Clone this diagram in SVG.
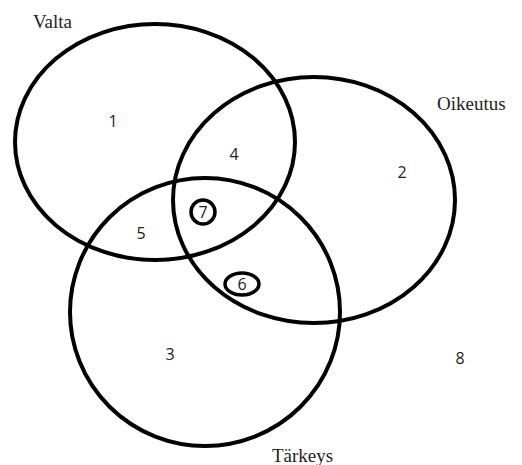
<svg xmlns="http://www.w3.org/2000/svg" width="522" height="465" viewBox="0 0 522 465">
<style>
.set{fill:none;stroke:#000;stroke-width:4}
.mark{fill:none;stroke:#000;stroke-width:3.5}
.lbl{font-family:"Liberation Serif",serif;font-size:19px;fill:#222}
.num{font-family:"Open Sans","Liberation Sans",sans-serif;font-size:16px;fill:#222;text-anchor:middle}
</style>
<rect width="522" height="465" fill="#fff"/>
<g id="valta">
<ellipse class="set" cx="155" cy="142" rx="140" ry="118"/>
<text class="lbl" x="33" y="28">Valta</text>
</g>
<g id="oikeutus">
<ellipse class="set" cx="314" cy="200" rx="141" ry="123"/>
<text class="lbl" x="437" y="110">Oikeutus</text>
</g>
<g id="tarkeys">
<ellipse class="set" cx="205" cy="312" rx="135" ry="134"/>
<text class="lbl" x="272" y="462">Tärkeys</text>
</g>
<g id="r1"><text class="num" x="113" y="127">1</text></g>
<g id="r2"><text class="num" x="402" y="178">2</text></g>
<g id="r3"><text class="num" x="170" y="360">3</text></g>
<g id="r4"><text class="num" x="234" y="160">4</text></g>
<g id="r5"><text class="num" x="141" y="239">5</text></g>
<g id="r7"><ellipse class="mark" cx="203" cy="212" rx="12" ry="12"/><text class="num" x="203" y="218">7</text></g>
<g id="r6"><ellipse class="mark" cx="242" cy="284" rx="17" ry="11"/><text class="num" x="242" y="290">6</text></g>
<g id="r8"><text class="num" x="460" y="364">8</text></g>
</svg>
